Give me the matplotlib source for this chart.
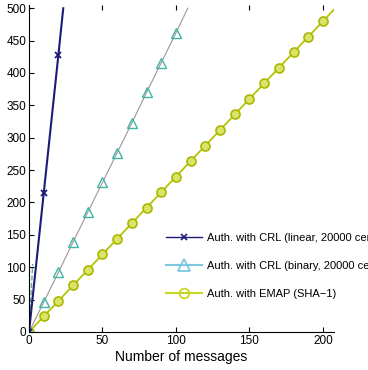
import matplotlib
matplotlib.use("Agg")
import matplotlib.pyplot as plt
from matplotlib.lines import Line2D
import numpy as np

plt.rcParams['font.family'] = ['Liberation Sans', 'DejaVu Sans']

# auth. with CRL, linear search (20000 certs)
x_lin = [0, 10, 20, 23.3]
y_lin = [0, 214, 428, 500]
mk_lin = [0, 1, 2]

# auth. with CRL, binary search (20000 certs)
x_bin = [0, 10, 20, 30, 40, 50, 60, 70, 80, 90, 100, 108]
y_bin = [0, 46, 92, 139, 185, 231, 277, 323, 370, 416, 462, 500]
mk_bin = list(range(11))

# auth. with EMAP (SHA-1)
x_emap = [0, 10, 20, 30, 40, 50, 60, 70, 80, 90, 100,
          110, 120, 130, 140, 150, 160, 170, 180, 190, 200, 207.5]
y_emap = [0, 24, 48, 72, 96, 120, 144, 168, 192, 216, 240,
          264, 288, 312, 336, 360, 384, 408, 432, 456, 480, 498]
mk_emap = list(range(21))

# short dashed trace near the y axis
x_dash = [0, 2.5]
y_dash = [0, 105]

labels = ['Auth. with CRL (linear, 20000 certs)',
          'Auth. with CRL (binary, 20000 certs)',
          'Auth. with EMAP (SHA\u22121)']

c_lin = '#1c1c78'
c_bin = '#3fb5a5'
c_bin_leg = '#7cc8e0'
c_emap = '#b4c400'

fig = plt.figure(figsize=(3.68, 3.70), dpi=100)
ax = fig.add_axes([29/368, 38/370, 305/368, 327/370])

ax.plot(x_dash, y_dash, '--', color='#6aa8a8', lw=1.0)
ax.plot(x_emap, y_emap, '-', color=c_emap, lw=1.3, marker='o', markevery=mk_emap,
        ms=6.5, mfc='#dbe36a', mec='#a8b800', mew=1.2)
ax.plot(x_bin, y_bin, '-', color='#a89098', lw=0.8, marker='^', markevery=mk_bin,
        ms=7, mfc='none', mec=c_bin, mew=1.0)
ax.plot(x_lin, y_lin, '-', color=c_lin, lw=1.5, marker='x', markevery=mk_lin,
        ms=5, mec=c_lin, mew=1.3)

ax.set_xlim(0, 207.5)
ax.set_ylim(0, 505)
ax.set_xticks(np.arange(0, 201, 50))
ax.set_yticks(np.arange(0, 501, 50))
ax.tick_params(direction='in', length=3.5, width=0.8, labelsize=8.5, pad=2,
               top=True, right=False)
ax.spines['right'].set_visible(False)
ax.spines['top'].set_visible(False)
ax.set_xlabel('Number of messages', fontsize=10, labelpad=2)

# legend runs past the right edge, as in the original figure
handles = [
    Line2D([], [], color=c_lin, lw=1.0, marker='x', ms=4, mew=1.2),
    Line2D([], [], color=c_bin_leg, lw=1.5, marker='^', ms=9, mfc='none', mew=1.3),
    Line2D([], [], color='#c8d820', lw=1.5, marker='o', ms=7, mfc='none', mew=1.3),
]
fig.legend(handles, labels, loc='center left', bbox_to_anchor=(0.424, 0.281),
           frameon=False, fontsize=8, handlelength=3.2, labelspacing=1.6,
           handletextpad=0.5, borderpad=0.4)

fig.savefig('out.png', dpi=100)
